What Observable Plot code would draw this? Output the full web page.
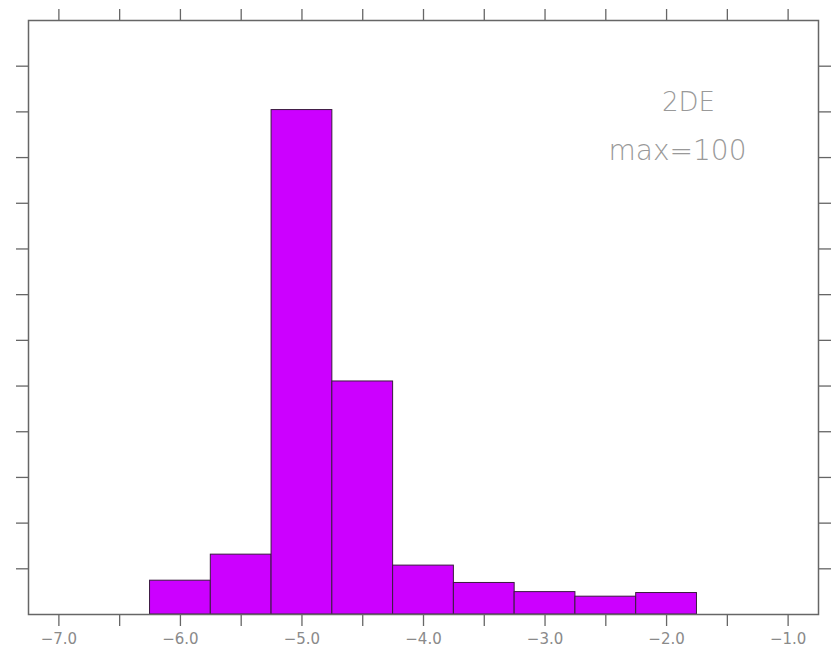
<!DOCTYPE html>
<html>
<head>
<meta charset="utf-8">
<script src="https://cdn.jsdelivr.net/npm/d3@7"></script>
<script src="https://cdn.jsdelivr.net/npm/@observablehq/plot@0.6"></script>
<style>
  html, body { margin: 0; padding: 0; background: #fff; }
  #chart svg { display: block; }
</style>
</head>
<body>
<div id="chart"></div>
<script>
// Histogram bins (width 0.5), bin centers and density values
const binCenters = [-6.0, -5.5, -5.0, -4.5, -4.0, -3.5, -3.0, -2.5, -2.0];
const density    = [0.074, 0.131, 1.104, 0.510, 0.107, 0.069, 0.049, 0.039, 0.047];
const binWidth = 0.5;
const xTicks = [-7.0, -6.5, -6.0, -5.5, -5.0, -4.5, -4.0, -3.5, -3.0, -2.5, -2.0, -1.5, -1.0];
const yTicks = [0.1, 0.2, 0.3, 0.4, 0.5, 0.6, 0.7, 0.8, 0.9, 1.0, 1.1, 1.2];
const labelTitle = "2DE";
const labelMax = "max=100";

const bins = binCenters.map((c, i) => ({x1: c - binWidth / 2, x2: c + binWidth / 2, y: density[i]}));
const fmt = d => Number.isInteger(d) ? "\u2212" + Math.abs(d).toFixed(1) : "";

const axisColor = "#666";
const chart = Plot.plot({
  width: 835,
  height: 653,
  marginLeft: 28,
  marginRight: 17,
  marginTop: 20,
  marginBottom: 39,
  style: {fontFamily: "DejaVu Sans, sans-serif", background: "#fff"},
  x: {domain: [-7.25, -0.75]},
  y: {domain: [0, 1.3]},
  marks: [
    Plot.rect(bins, {x1: "x1", x2: "x2", y1: 0, y2: "y", fill: "#cc00ff", stroke: "#3a1a40", strokeWidth: 1}),
    Plot.frame({stroke: axisColor, strokeWidth: 1.5}),
    Plot.axisX(xTicks, {anchor: "bottom", tickSize: 12, tickPadding: 7, tickFormat: fmt, stroke: axisColor, strokeWidth: 1.3, fill: "#8a8a8a", fontSize: 15, fontWeight: 400}),
    Plot.axisX(xTicks, {anchor: "top", tickSize: 12, tickFormat: () => "", stroke: axisColor, strokeWidth: 1.3, label: null}),
    Plot.axisY(yTicks, {anchor: "left", tickSize: 12, tickFormat: () => "", stroke: axisColor, strokeWidth: 1.3, label: null}),
    Plot.axisY(yTicks, {anchor: "right", tickSize: 12, tickFormat: () => "", stroke: axisColor, strokeWidth: 1.3, label: null}),
    Plot.text([labelTitle], {x: -1.82, y: 1.12, text: d => d, fill: "#999", fontSize: 26, fontWeight: 200, fontFamily: "DejaVu Sans, sans-serif"}),
    Plot.text([labelMax], {x: -1.91, y: 1.015, text: d => d, fill: "#999", fontSize: 28, fontWeight: 200, fontFamily: "DejaVu Sans, sans-serif"})
  ]
});
document.getElementById("chart").appendChild(chart);
</script>
</body>
</html>
